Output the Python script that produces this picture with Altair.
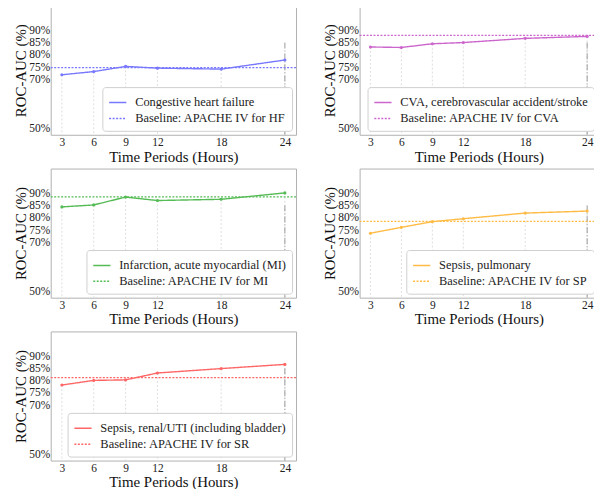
import altair as alt
import pandas as pd

hours = [3, 6, 9, 12, 18, 24]
series_names = [
    "Congestive heart failure",
    "CVA, cerebrovascular accident/stroke",
    "Infarction, acute myocardial (MI)",
    "Sepsis, pulmonary",
    "Sepsis, renal/UTI (including bladder)",
]
baseline_names = [
    "Baseline: APACHE IV for HF",
    "Baseline: APACHE IV for CVA",
    "Baseline: APACHE IV for MI",
    "Baseline: APACHE IV for SP",
    "Baseline: APACHE IV for SR",
]
auc_hf = [71.9, 73.2, 75.3, 74.6, 74.2, 77.9]
auc_cva = [83.2, 83.0, 84.5, 85.0, 86.7, 87.5]
auc_mi = [84.4, 85.2, 88.4, 87.0, 87.5, 90.1]
auc_sp = [73.7, 76.1, 78.4, 79.6, 81.9, 82.7]
auc_sr = [78.2, 80.1, 80.3, 83.1, 84.9, 86.6]
baseline_auc = [74.8, 87.9, 88.5, 78.5, 81.2]
colors = ["#7777ff", "#cc66cc", "#55bb55", "#ffbb44", "#ff6666"]
y_ticks = [50, 70, 75, 80, 85, 90]
marker_hour = [24]
marker_top = [85]
y_domain = [47.5, 100]
x_domain = [1.95, 25.05]
panel_widths = [247, 240, 247, 240, 247]

FONT = "Liberation Serif"


def panel(i, values):
    df = pd.DataFrame({"hour": hours, "auc": values, "series": series_names[i]})
    bdf = pd.DataFrame({"auc": [baseline_auc[i]], "series": [baseline_names[i]]})
    mdf = pd.DataFrame({"hour": marker_hour, "auc": marker_top})
    x = alt.X("hour:Q", scale=alt.Scale(domain=x_domain, nice=False, zero=False),
              axis=alt.Axis(values=hours, title="Time Periods (Hours)", labelPadding=2, titlePadding=1))
    y = alt.Y("auc:Q", scale=alt.Scale(domain=y_domain, nice=False, zero=False),
              axis=alt.Axis(values=y_ticks, labelExpr="datum.value + '%'", title="ROC-AUC (%)",
                            labelPadding=1, titlePadding=0, labelFontSize=11.5))
    dom = [series_names[i], baseline_names[i]]
    leg = alt.Legend(title=None, orient="bottom-right", labelFont=FONT, labelFontSize=12.5,
                     symbolSize=300, rowPadding=0, padding=6, offset=4, labelOffset=8)
    color = alt.Color("series:N", scale=alt.Scale(domain=dom, range=[colors[i], colors[i]]), legend=leg)
    dash = alt.StrokeDash("series:N", scale=alt.Scale(domain=dom, range=[[1, 0], [2, 1.5]]), legend=leg)

    stems = alt.Chart(df).mark_rule(color="#d5d5d5", strokeDash=[2, 2], strokeWidth=0.8).encode(
        x=x, y=y, y2=alt.datum(y_domain[0]))
    mark24 = alt.Chart(mdf).mark_rule(color="#999999", strokeDash=[6, 2, 1, 2], strokeWidth=1).encode(
        x=x, y=y, y2=alt.datum(y_domain[0]))
    base = alt.Chart(bdf).mark_rule(strokeWidth=1.2).encode(y=y, color=color, strokeDash=dash)
    line = alt.Chart(df).mark_line(strokeWidth=1.4).encode(x=x, y=y, color=color, strokeDash=dash)
    pts = alt.Chart(df).mark_point(filled=True, size=10, shape="circle", opacity=1).encode(
        x=x, y=y, color=alt.value(colors[i]))
    return alt.layer(stems, mark24, base, line, pts).properties(width=panel_widths[i], height=130)


all_values = [auc_hf, auc_cva, auc_mi, auc_sp, auc_sr]
panels = [panel(i, v) for i, v in enumerate(all_values)]

chart = alt.concat(*panels, columns=2, spacing={"row": 3, "column": 24}).resolve_scale(
    color="independent", strokeDash="independent"
).properties(
    padding={"left": 5, "top": -5, "right": -6, "bottom": -3}
).configure(
    font=FONT
).configure_view(
    stroke="#b0b0b0", strokeWidth=1
).configure_axis(
    labelFont=FONT, titleFont=FONT, labelFontSize=11.5, titleFontSize=15,
    titleFontWeight="normal", labelColor="#222222", titleColor="#111111",
    ticks=False, domain=False, grid=False,
).configure_legend(
    labelFont=FONT, labelFontSize=12.5, labelColor="#222222", labelLimit=0,
    fillColor="white", strokeColor="#d0d0d0", cornerRadius=3, padding=6,
    rowPadding=0, symbolSize=300, symbolStrokeWidth=1.5, offset=4, labelOffset=8,
)

chart.save("out.html", embed_options={"renderer": "svg", "actions": False})
